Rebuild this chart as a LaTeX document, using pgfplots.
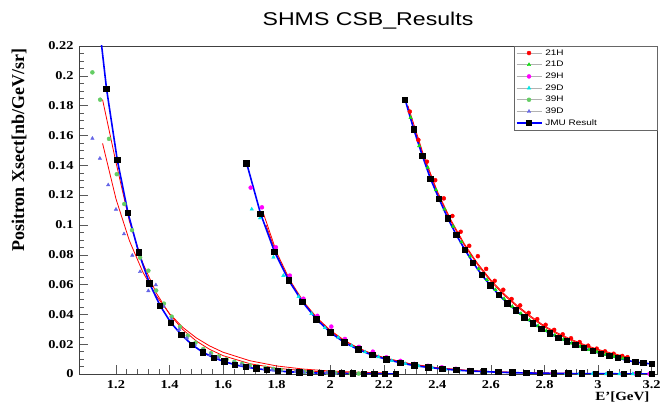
\documentclass[border=0pt]{standalone}
\usepackage{fontspec}
\setmainfont{Liberation Serif}[FakeStretch=1.2]
\newfontfamily\labfont{Liberation Serif}
\newfontfamily\hv{Liberation Sans}[FakeStretch=1.25]
\usepackage{pgfplots}
\pgfplotsset{compat=1.18}

\definecolor{c21H}{RGB}{255,0,0}
\definecolor{c21D}{RGB}{20,220,20}
\definecolor{c29H}{RGB}{255,0,255}
\definecolor{c29D}{RGB}{0,230,230}
\definecolor{c39H}{RGB}{100,205,100}
\definecolor{c39D}{RGB}{100,100,230}
\definecolor{jmu}{RGB}{0,0,255}

\newcommand\legtxt[1]{\makebox[107pt][l]{#1}}

\pgfplotsset{
  dataleg/.style={legend image code/.code={
    \draw[gray!60, line width=0.6pt] (0pt,0pt) -- (25pt,0pt);
    \path[mark repeat=2, mark phase=2] plot coordinates {(0pt,0pt) (12.5pt,0pt) (25pt,0pt)};
  }},
  pts/.style={only marks, mark size=2pt, dataleg},
  fit/.style={red, line width=0.8pt, no marks, forget plot},
  jmuline/.style={jmu, line width=1.6pt, mark=square*, mark size=2.4pt,
    mark options={black, fill=black},
    legend image code/.code={
      \draw[mark repeat=2, mark phase=2] plot coordinates {(0pt,0pt) (12.5pt,0pt) (25pt,0pt)};
    }},
}

\begin{document}
\begin{tikzpicture}
\useasboundingbox (0,0) rectangle (661pt,403pt);
\begin{axis}[
  at={(79pt,29pt)}, anchor=south west,
  width=578pt, height=328pt, scale only axis,
  xmin=1.062, xmax=3.22, ymin=0, ymax=0.22,
  xtick={1.2,1.4,1.6,1.8,2,2.2,2.4,2.6,2.8,3,3.2},
  ytick={0,0.02,0.04,0.06,0.08,0.1,0.12,0.14,0.16,0.18,0.2,0.22},
  minor x tick num=4, minor y tick num=3,
  tick align=inside, xtick pos=bottom, ytick pos=left,
  major tick length=9pt, minor tick length=5pt,
  scaled y ticks=false,
  yticklabel style={/pgf/number format/fixed, /pgf/number format/precision=2, xshift=-2pt},
  xticklabel style={yshift=-3pt},
  /pgf/number format/assume math mode=true,
  tick label style={font=\bfseries\fontsize{12}{12}\selectfont},
  axis line style={black!75},
  every tick/.style={black!65},
  title={SHMS CSB\_Results},
  every axis title/.style={at={(rel axis cs:0.5,1)}, anchor=base, yshift=20pt,
    font=\hv\fontsize{18.5}{20}\selectfont},
  xlabel={E'[GeV]},
  every axis x label/.style={at={(rel axis cs:1,0)}, anchor=north east, yshift=-14pt, xshift=-4pt,
    font=\bfseries\fontsize{12.5}{13}\selectfont},
  ylabel={Positron Xsect[nb/GeV/sr]},
  every axis y label/.style={at={(rel axis cs:-0.0848,1.003)}, rotate=90, anchor=south east,
    font=\labfont\bfseries\fontsize{18}{18}\selectfont},
  legend style={at={(rel axis cs:1,1)}, anchor=north east, xshift=0.5pt, draw=black!60,
    font=\hv\fontsize{8}{8}\selectfont, inner xsep=2pt, inner ysep=1pt,
    row sep=0pt, nodes={inner xsep=3pt, inner ysep=2.3pt}},
  legend cell align=left,
]
% group 3 data
\addplot[pts, mark=*, c21H] coordinates {(2.297,0.176) (2.329,0.157) (2.361,0.1424) (2.392,0.1300) (2.424,0.1178) (2.456,0.1060) (2.487,0.0954) (2.519,0.0860) (2.551,0.0790) (2.582,0.0705) (2.614,0.0625) (2.646,0.0565) (2.677,0.0503) (2.709,0.0460) (2.741,0.0410) (2.773,0.0368) (2.804,0.0330) (2.836,0.0296) (2.868,0.0266) (2.899,0.0240) (2.931,0.0214) (2.963,0.0190) (2.995,0.0170) (3.026,0.0152) (3.058,0.0136) (3.090,0.0121) (3.110,0.0113)};
\addlegendentry{\legtxt{21H}}
\addplot[pts, mark=triangle*, c21D] coordinates {(2.300,0.172) (2.332,0.153) (2.364,0.1385) (2.395,0.1235) (2.427,0.1105) (2.459,0.0990) (2.490,0.0885) (2.522,0.0790) (2.554,0.0705) (2.585,0.0632) (2.617,0.0565) (2.649,0.0505) (2.680,0.0452) (2.712,0.0405) (2.744,0.0362) (2.776,0.0323) (2.807,0.0290) (2.839,0.0260) (2.871,0.0232) (2.902,0.0207) (2.934,0.0185) (2.966,0.0163) (2.997,0.0148) (3.029,0.0132) (3.061,0.0117) (3.092,0.0104)};
\addlegendentry{\legtxt{21D}}
% group 2 data
\addplot[pts, mark=*, c29H] coordinates {(1.703,0.125) (1.745,0.1118) (1.797,0.085) (1.849,0.066) (1.900,0.0505) (1.952,0.0390) (2.004,0.0318) (2.055,0.0235) (2.107,0.0182) (2.159,0.0150) (2.210,0.0112) (2.262,0.0088) (2.314,0.0068) (2.365,0.0055) (2.417,0.0045) (2.469,0.0035) (2.520,0.0027) (2.572,0.0021) (2.624,0.0017) (2.675,0.0013) (2.727,0.0010) (2.779,0.0008) (2.830,0.0006) (2.882,0.0005) (2.934,0.0004) (2.985,0.0003) (3.037,0.0003) (3.089,0.0002) (3.140,0.0002) (3.192,0.0001)};
\addlegendentry{\legtxt{29H}}
\addplot[pts, mark=triangle*, c29D] coordinates {(1.707,0.1105) (1.738,0.1046) (1.788,0.0783) (1.825,0.066) (1.882,0.0519) (1.930,0.0405) (1.980,0.0310) (2.030,0.0245) (2.080,0.0190) (2.130,0.0148) (2.180,0.0115) (2.230,0.0089) (2.280,0.0069) (2.330,0.0054) (2.380,0.0042) (2.430,0.0033) (2.480,0.0026) (2.530,0.0020) (2.580,0.0016) (2.630,0.0012) (2.680,0.0009) (2.730,0.0007) (2.780,0.0005) (2.830,0.0004) (2.880,0.0003) (2.930,0.0002) (2.980,0.0002) (3.030,0.0001) (3.080,0.0001) (3.130,0.0001)};
\addlegendentry{\legtxt{29D}}
% group 1 data
\addplot[pts, mark=*, c39H] coordinates {(1.112,0.2023) (1.141,0.184) (1.174,0.1577) (1.203,0.134) (1.231,0.114) (1.260,0.0965) (1.290,0.078) (1.321,0.0693) (1.350,0.0560) (1.379,0.0472) (1.408,0.0385) (1.439,0.0317) (1.468,0.0257) (1.497,0.0210) (1.526,0.0168) (1.555,0.0140) (1.584,0.0118) (1.613,0.0098) (1.642,0.0082) (1.671,0.0069) (1.700,0.0058) (1.729,0.0050) (1.758,0.0042) (1.787,0.0034) (1.816,0.0027) (1.845,0.0022) (1.874,0.0018) (1.903,0.0015) (1.932,0.0012) (1.961,0.0010) (1.990,0.0008) (2.019,0.0007) (2.048,0.0005) (2.077,0.0004) (2.106,0.0003)};
\addlegendentry{\legtxt{39H}}
\addplot[pts, mark=triangle*, c39D] coordinates {(1.112,0.158) (1.140,0.1446) (1.171,0.1268) (1.200,0.1104) (1.230,0.0939) (1.261,0.0796) (1.290,0.0686) (1.321,0.0558) (1.349,0.0597) (1.378,0.0452) (1.407,0.0365) (1.436,0.0298) (1.465,0.0240) (1.494,0.0195) (1.523,0.0158) (1.552,0.0130) (1.581,0.0107) (1.610,0.0088) (1.639,0.0072) (1.668,0.0060) (1.697,0.0049) (1.726,0.0040) (1.755,0.0033) (1.784,0.0027) (1.813,0.0022) (1.842,0.0018) (1.871,0.0015) (1.900,0.0012) (1.929,0.0010) (1.958,0.0008) (1.987,0.0007) (2.016,0.0005)};
\addlegendentry{\legtxt{39D}}
% fits
\addplot[fit] coordinates {(1.15,0.184) (1.20,0.142) (1.25,0.1025) (1.30,0.0745) (1.35,0.0545) (1.40,0.0401) (1.45,0.0297) (1.50,0.0221) (1.55,0.0165) (1.60,0.0123) (1.70,0.0069) (1.80,0.0039) (1.90,0.0022) (2.00,0.0012) (2.10,0.0007) (2.20,0.0004)};
\addplot[fit] coordinates {(1.15,0.1547) (1.20,0.1175) (1.25,0.0895) (1.30,0.0685) (1.35,0.0525) (1.40,0.0405) (1.45,0.0312) (1.50,0.0242) (1.55,0.0188) (1.60,0.0146) (1.70,0.0089) (1.80,0.0054) (1.90,0.0033) (2.00,0.0020) (2.10,0.0012) (2.20,0.0007)};
\addplot[fit] coordinates {(1.750,0.1080) (1.800,0.0815) (1.850,0.0628) (1.900,0.0486) (1.950,0.0378) (2.000,0.0294) (2.050,0.0229) (2.100,0.0179) (2.150,0.0140) (2.200,0.0110) (2.300,0.0068) (2.400,0.0042) (2.500,0.0026) (2.600,0.0016) (2.700,0.0010) (2.800,0.0006) (2.900,0.0004) (3.000,0.00025) (3.100,0.00015)};
\addplot[fit] coordinates {(1.760,0.1000) (1.800,0.0800) (1.850,0.0617) (1.900,0.0478) (1.950,0.0371) (2.000,0.0289) (2.050,0.0225) (2.100,0.0176) (2.150,0.0138) (2.200,0.0108) (2.300,0.0067) (2.400,0.0041) (2.500,0.0026) (2.600,0.0016) (2.700,0.0010) (2.800,0.0006) (2.900,0.0004) (3.000,0.00025) (3.100,0.00015)};
\addplot[fit] coordinates {(2.290,0.1800) (2.350,0.1460) (2.400,0.1225) (2.450,0.1035) (2.500,0.0875) (2.550,0.0742) (2.600,0.0630) (2.650,0.0536) (2.700,0.0456) (2.750,0.0386) (2.800,0.0322) (2.850,0.0274) (2.900,0.0232) (2.950,0.0196) (3.000,0.0165) (3.050,0.0140) (3.110,0.0114)};
\addplot[fit] coordinates {(2.295,0.1745) (2.350,0.1450) (2.400,0.1215) (2.450,0.1025) (2.500,0.0866) (2.550,0.0733) (2.600,0.0621) (2.650,0.0527) (2.700,0.0448) (2.750,0.0378) (2.800,0.0315) (2.850,0.0267) (2.900,0.0226) (2.950,0.0190) (3.000,0.0160) (3.050,0.0135) (3.110,0.0110)};
% JMU result
\addplot[jmuline] coordinates {(1.125,0.254) (1.165,0.191) (1.205,0.1435) (1.245,0.108) (1.285,0.0814) (1.325,0.0608) (1.365,0.0458) (1.405,0.0344) (1.445,0.0262) (1.485,0.0195) (1.525,0.0145) (1.565,0.0109) (1.605,0.0083) (1.645,0.0062) (1.685,0.0046) (1.725,0.0036) (1.765,0.0027) (1.805,0.0020) (1.845,0.0015) (1.885,0.0011) (1.925,0.0008) (1.965,0.0006) (2.005,0.00045) (2.045,0.00034) (2.085,0.00025) (2.125,0.00019) (2.165,0.00014) (2.205,0.0001) (2.245,0.00008)};
\addlegendentry{\legtxt{JMU Result}}
\addplot[jmuline, forget plot] coordinates {(1.688,0.1413) (1.740,0.1075) (1.792,0.0820) (1.845,0.0628) (1.897,0.0482) (1.949,0.0366) (2.001,0.0278) (2.053,0.0211) (2.106,0.0163) (2.158,0.0126) (2.210,0.0098) (2.262,0.0075) (2.314,0.0056) (2.367,0.0044) (2.419,0.0034) (2.471,0.0026) (2.523,0.0020) (2.575,0.0016) (2.628,0.0012) (2.680,0.0009) (2.732,0.0007) (2.784,0.00055) (2.836,0.00042) (2.889,0.00032) (2.941,0.00025) (2.993,0.00019) (3.045,0.00015) (3.097,0.00011) (3.150,0.00009) (3.202,0.00007)};
\addplot[jmuline, forget plot] coordinates {(2.280,0.1838) (2.312,0.1640) (2.344,0.1464) (2.375,0.1306) (2.407,0.1172) (2.439,0.1044) (2.471,0.0932) (2.503,0.0832) (2.534,0.0745) (2.566,0.0664) (2.598,0.0594) (2.630,0.0530) (2.662,0.0474) (2.693,0.0426) (2.725,0.0380) (2.757,0.0340) (2.789,0.0303) (2.821,0.0272) (2.852,0.0242) (2.884,0.0218) (2.916,0.0195) (2.948,0.0173) (2.980,0.0153) (3.011,0.0136) (3.043,0.0121) (3.075,0.0106) (3.107,0.0092) (3.139,0.0080) (3.170,0.0073) (3.202,0.0067)};
\end{axis}
\end{tikzpicture}
\end{document}
